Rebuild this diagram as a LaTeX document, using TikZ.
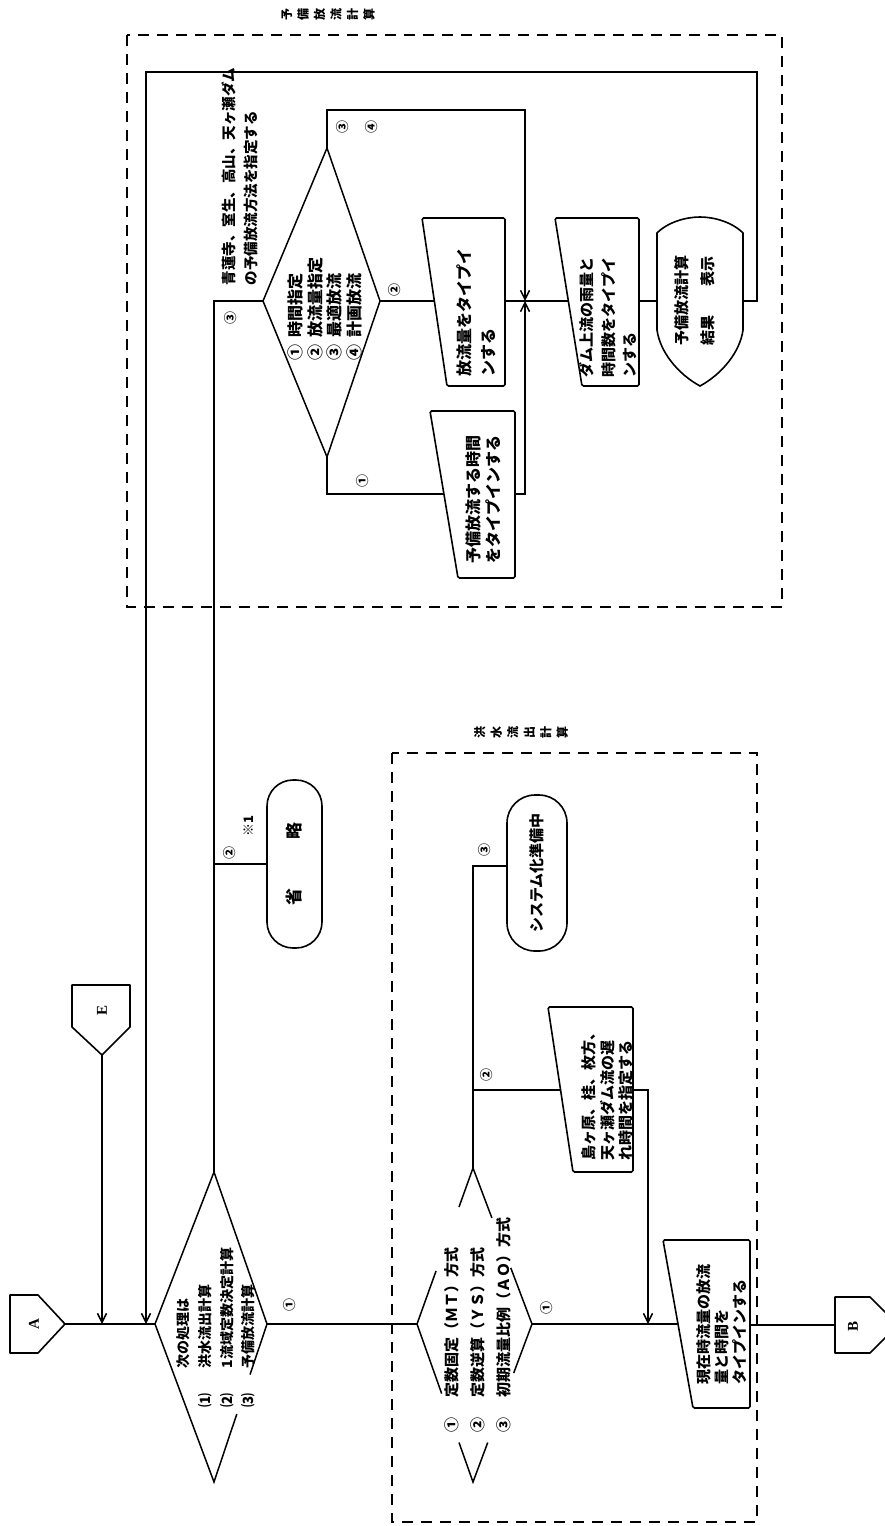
\documentclass[tikz,border=0pt]{standalone}
\usepackage{fontspec}
\setmainfont{Noto Sans CJK JP}
\newfontfamily\latf{Liberation Serif}
\usetikzlibrary{arrows.meta,calc}
\newcommand\myfs[2]{\fontsize{#1}{#2}\selectfont\bfseries}
\begin{document}
\begin{tikzpicture}[x=1pt,y=-1pt,line width=1.5pt,
  arr/.style={-{Straight Barb[length=9pt,width=9pt]}},
  shp/.style={draw,line width=1.6pt,rounded corners=1.5pt},
  dbox/.style={draw,line width=1.6pt,dash pattern=on 11pt off 8pt},
  txt/.style={rotate=90,inner sep=0pt,align=left,anchor=north west},
  lbl/.style={rotate=90,inner sep=0pt,font=\myfs{13}{13}},
  term/.style={draw,rotate=90,inner sep=0pt,line width=1.6pt},
  ttl/.style={rotate=90,inner sep=0pt,align=center,font=\myfs{12}{16.5}},
  conn/.style={draw,line width=1.6pt,line join=round}]
\useasboundingbox (0,0) rectangle (885,1526);
\fill[white] (0,0) rectangle (885,1526);

% ---------- coordinates of shapes ----------
\coordinate (d1w) at (155,1324); \coordinate (d1e) at (267,1324);
\coordinate (d1n) at (214,1172); \coordinate (d1s) at (214,1482);
\coordinate (d2w) at (417,1324); \coordinate (d2e) at (532,1324);
\coordinate (d2n) at (473,1168); \coordinate (d2s) at (473,1482);
\coordinate (d3w) at (263,301);  \coordinate (d3e) at (380,301);
\coordinate (d3n) at (327,148);  \coordinate (d3s) at (327,457);

% ---------- dashed group boxes ----------
\draw[dbox] (127,35) rectangle (782,607);
\draw[dbox] (392,753) rectangle (757,1522);
\node[ttl] (ttl1) at (328,14) {予\\備\\放\\流\\計\\算};
\node[ttl] (ttl2) at (521,732) {洪\\水\\流\\出\\計\\算};

% ---------- connectors A, E, B ----------
\draw[conn] (10,1295) -- (38,1295) -- (65,1324) coordinate (Ap) -- (38,1353) -- (10,1353) -- cycle;
\node[rotate=90,inner sep=0pt,font=\latf\myfs{15}{15}] (At) at (34,1324) {A};
\draw[conn] (72,985) -- (130,985) -- (130,1027) -- (102,1055) coordinate (Ep) -- (72,1027) -- cycle;
\node[rotate=90,inner sep=0pt,font=\latf\myfs{15}{15}] (Et) at (102,1010) {E};
\draw[conn] (835,1297) -- (870,1297) -- (898,1325) -- (870,1353) -- (835,1353) coordinate (Bb) -- cycle;
\coordinate (Bl) at (835,1325);
\node[rotate=90,inner sep=0pt,font=\latf\myfs{15}{15}] (Bt) at (853,1326) {B};

% ---------- diamond 1 ----------
\draw (d1w) -- (d1n) -- (d1e) -- ($(d1e)!0.32!(d1s)$);
\draw ($(d1e)!0.57!(d1s)$) -- (d1s) -- (d1w);
\node[txt,font=\myfs{14}{21.7}] (d1t) at (176,1408)
  {\hspace*{2.8em}次の処理は\\\makebox[2.8em][l]{⑴}洪水流出計算\\\makebox[2.8em][l]{⑵}1流域定数決定計算\\\makebox[2.8em][l]{⑶}予備放流計算};

% ---------- diamond 2 ----------
\draw (d2n) -- ($(d2n)!0.25!(d2w)$);
\draw ($(d2n)!0.66!(d2w)$) -- (d2w) -- ($(d2w)!0.44!(d2s)$);
\draw ($(d2w)!0.75!(d2s)$) -- (d2s) -- ($(d2s)!0.25!(d2e)$);
\draw ($(d2s)!0.69!(d2e)$) -- (d2e) -- ($(d2e)!0.36!(d2n)$);
\draw ($(d2e)!0.68!(d2n)$) -- (d2n);
\node[txt,font=\myfs{15}{26}] (d2t) at (444,1433)
  {\makebox[2.3em][l]{①}定数固定（ＭＴ）方式\\\makebox[2.3em][l]{②}定数逆算（ＹＳ）方式\\\makebox[2.3em][l]{③}初期流量比例（ＡＯ）方式};

% ---------- diamond 3 ----------
\draw[line join=round] (d3w) -- (d3n) -- (d3e) -- (d3s) -- cycle;
\node[txt,font=\myfs{16}{19.7}] (d3t) at (287,361)
  {\makebox[1.45em][l]{①}時間指定\\\makebox[1.45em][l]{②}放流量指定\\\makebox[1.45em][l]{③}最適放流\\\makebox[1.45em][l]{④}計画放流};
\node[txt,font=\myfs{14.5}{22}] (note) at (221,286)
  {青蓮寺、室生、高山、天ヶ瀬ダム\\の予備放流方法を指定する};

% ---------- manual input boxes ----------
\draw[shp] (422,218) -- (505,218) -- (505,386) -- (447,386) -- cycle;
\node[txt,font=\myfs{16}{24}] (m1t) at (456,377) {放流量をタイプイ\\ンする};
\draw[shp] (555,218) -- (639,218) -- (639,386) -- (582,386) -- cycle;
\node[txt,font=\myfs{15}{21.5}] (m2t) at (579,378) {ダム上流の雨量と\\時間数をタイプイ\\ンする};
\draw[shp] (430,411) -- (515,411) -- (515,578) -- (458,578) -- cycle;
\node[txt,font=\myfs{16}{20}] (m3t) at (465,564) {予備放流する時間\\をタイプインする};
\draw[shp] (548,1007) -- (633,1007) -- (633,1172) -- (573,1172) -- cycle;
\node[txt,font=\myfs{15}{18.5}] (m4t) at (581,1161) {島ヶ原、桂、枚方、\\天ヶ瀬ダム流の遅\\れ時間を指定する};
\draw[shp] (663,1240) -- (750,1240) -- (750,1408) -- (693,1408) -- cycle;
\node[txt,font=\myfs{15}{18}] (m5t) at (696,1385) {現在時流量の放流\\量と時間を\\タイプインする};

% ---------- display ----------
\draw[line width=1.6pt] (657,233) .. controls (668,222) and (686,217) .. (700,217)
  .. controls (714,217) and (732,222) .. (743,233) -- (743,330)
  .. controls (740,352) and (722,374) .. (700,386)
  .. controls (678,374) and (660,352) .. (657,330) -- cycle;
\node[txt,font=\myfs{15}{26}] (dispt) at (674,346) {予備放流計算\\結果\hspace{1.9em}表示};

% ---------- terminals ----------
\node[term,rounded corners=26pt,minimum width=168pt,minimum height=55pt,font=\myfs{17}{17}] (t1) at (294.5,864) {省\hspace{2.9em}略};
\node[term,rounded corners=28pt,minimum width=156pt,minimum height=60pt,font=\myfs{15}{15}] (t2) at (537,873) {システム化準備中};

% ---------- junction coordinates ----------
\coordinate (J1) at (102,1324); \coordinate (J2) at (146,1324);
\coordinate (c1) at (757,72);  \coordinate (c2) at (146,72);
\coordinate (Dl) at (657,301); \coordinate (Dr) at (743,301);
\coordinate (m1l) at (434,301); \coordinate (m1r) at (505,301);
\coordinate (m2l) at (568,301); \coordinate (m2r) at (639,301);
\coordinate (m3l) at (444,494); \coordinate (m3r) at (515,494);
\coordinate (k1) at (525,110);  \coordinate (u1) at (525,301);
\coordinate (b3) at (473,866);
\coordinate (m4l) at (561,1090); \coordinate (m4r) at (633,1090);
\coordinate (j3) at (648,1324);
\coordinate (m5l) at (678,1324); \coordinate (m5r) at (750,1325);

% ---------- flow lines ----------
\draw (Ap) -- (d1w);
\draw[arr] (Ep) -- (J1);
\draw[arr] (Dr) -| (c1) -- (c2) -- (J2);
\draw (d1e) -- (d2w);
\draw (d1n) |- (d3w);
\draw (t1.north) -- (t1.north -| d1n);
\draw[arr] (d3n) |- (k1) -- (u1);
\draw (d3e) -- (m1l);
\draw (m1r) -- (m2l);
\draw (m2r) -- (Dl);
\draw (d3s) |- (m3l);
\draw[arr] (m3r) -| (u1);
\draw (d2n) -- (b3) -- (b3 -| t2.north);
\draw (d2n |- m4l) -- (m4l);
\draw[arr] (m4r) -| (j3);
\draw (d2e) -- (m5l);
\draw (m5r) -- (Bl);

% ---------- branch labels ----------
\node[lbl] (l1) at (290,1305) {①};
\node[lbl] (l2) at (230,853) {②};
\node[lbl] (l3) at (249,826) {※1};
\node[lbl] (l4) at (231,318) {③};
\node[lbl] (l5) at (343,127) {③};
\node[lbl] (l6) at (372,127) {④};
\node[lbl] (l7) at (395,290) {②};
\node[lbl] (l8) at (363,481) {①};
\node[lbl] (l9) at (547,1308) {①};
\node[lbl] (l10) at (487,1075) {②};
\node[lbl] (l11) at (485,850) {③};
\end{tikzpicture}
\end{document}
